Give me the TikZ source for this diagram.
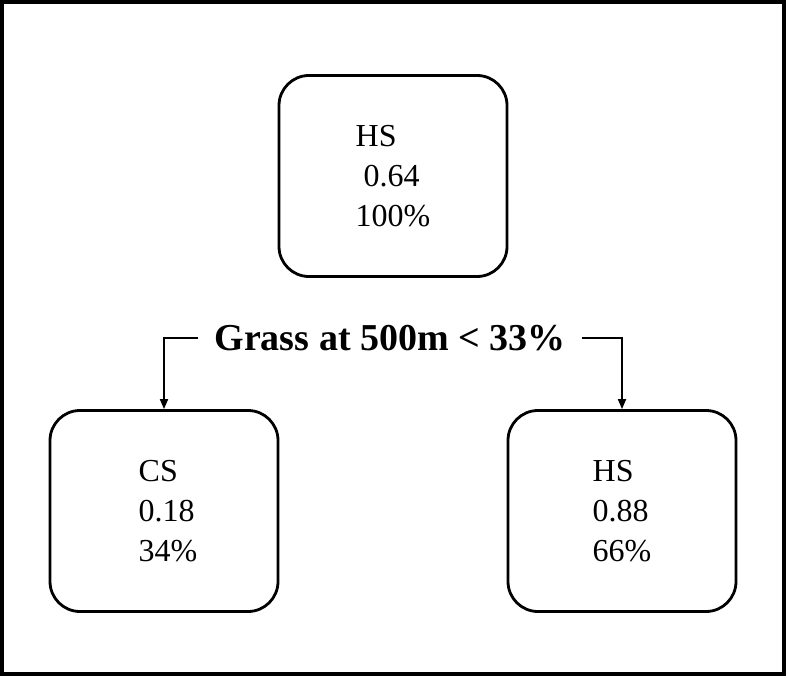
\documentclass[tikz,border=0pt]{standalone}
\usepackage{fontspec}
\setmainfont{Liberation Serif}
\usetikzlibrary{arrows.meta}
\begin{document}
\begin{tikzpicture}[x=1pt,y=-1pt,
  leafbox/.style={draw,line width=2.8pt,rounded corners=30pt,minimum width=228pt,minimum height=201pt,
    align=left,font=\fontsize{32}{40}\selectfont,inner sep=0pt},
  conn/.style={line width=1.8pt,-{Triangle[length=10pt,width=8pt]}},
  cond/.style={font=\fontsize{38}{40}\bfseries\selectfont,inner xsep=16pt,inner ysep=2pt}]
\useasboundingbox (0,0) rectangle (789,679);
\draw[line width=3.6pt] (2,2) rectangle (784,674);
\node[leafbox] (root) at (393,176) {HS\\\ 0.64\\100\%};
\node[leafbox] (left) at (164,511) {\ CS\\\ 0.18\\\ 34\%};
\node[leafbox] (right) at (622,511) {HS\\0.88\\66\%};
\node[cond] (split) at (390,338) {Grass at 500m < 33\%};
\draw[conn] (split.west) -| (left.north);
\draw[conn] (split.east) -| (right.north);
\end{tikzpicture}
\end{document}
